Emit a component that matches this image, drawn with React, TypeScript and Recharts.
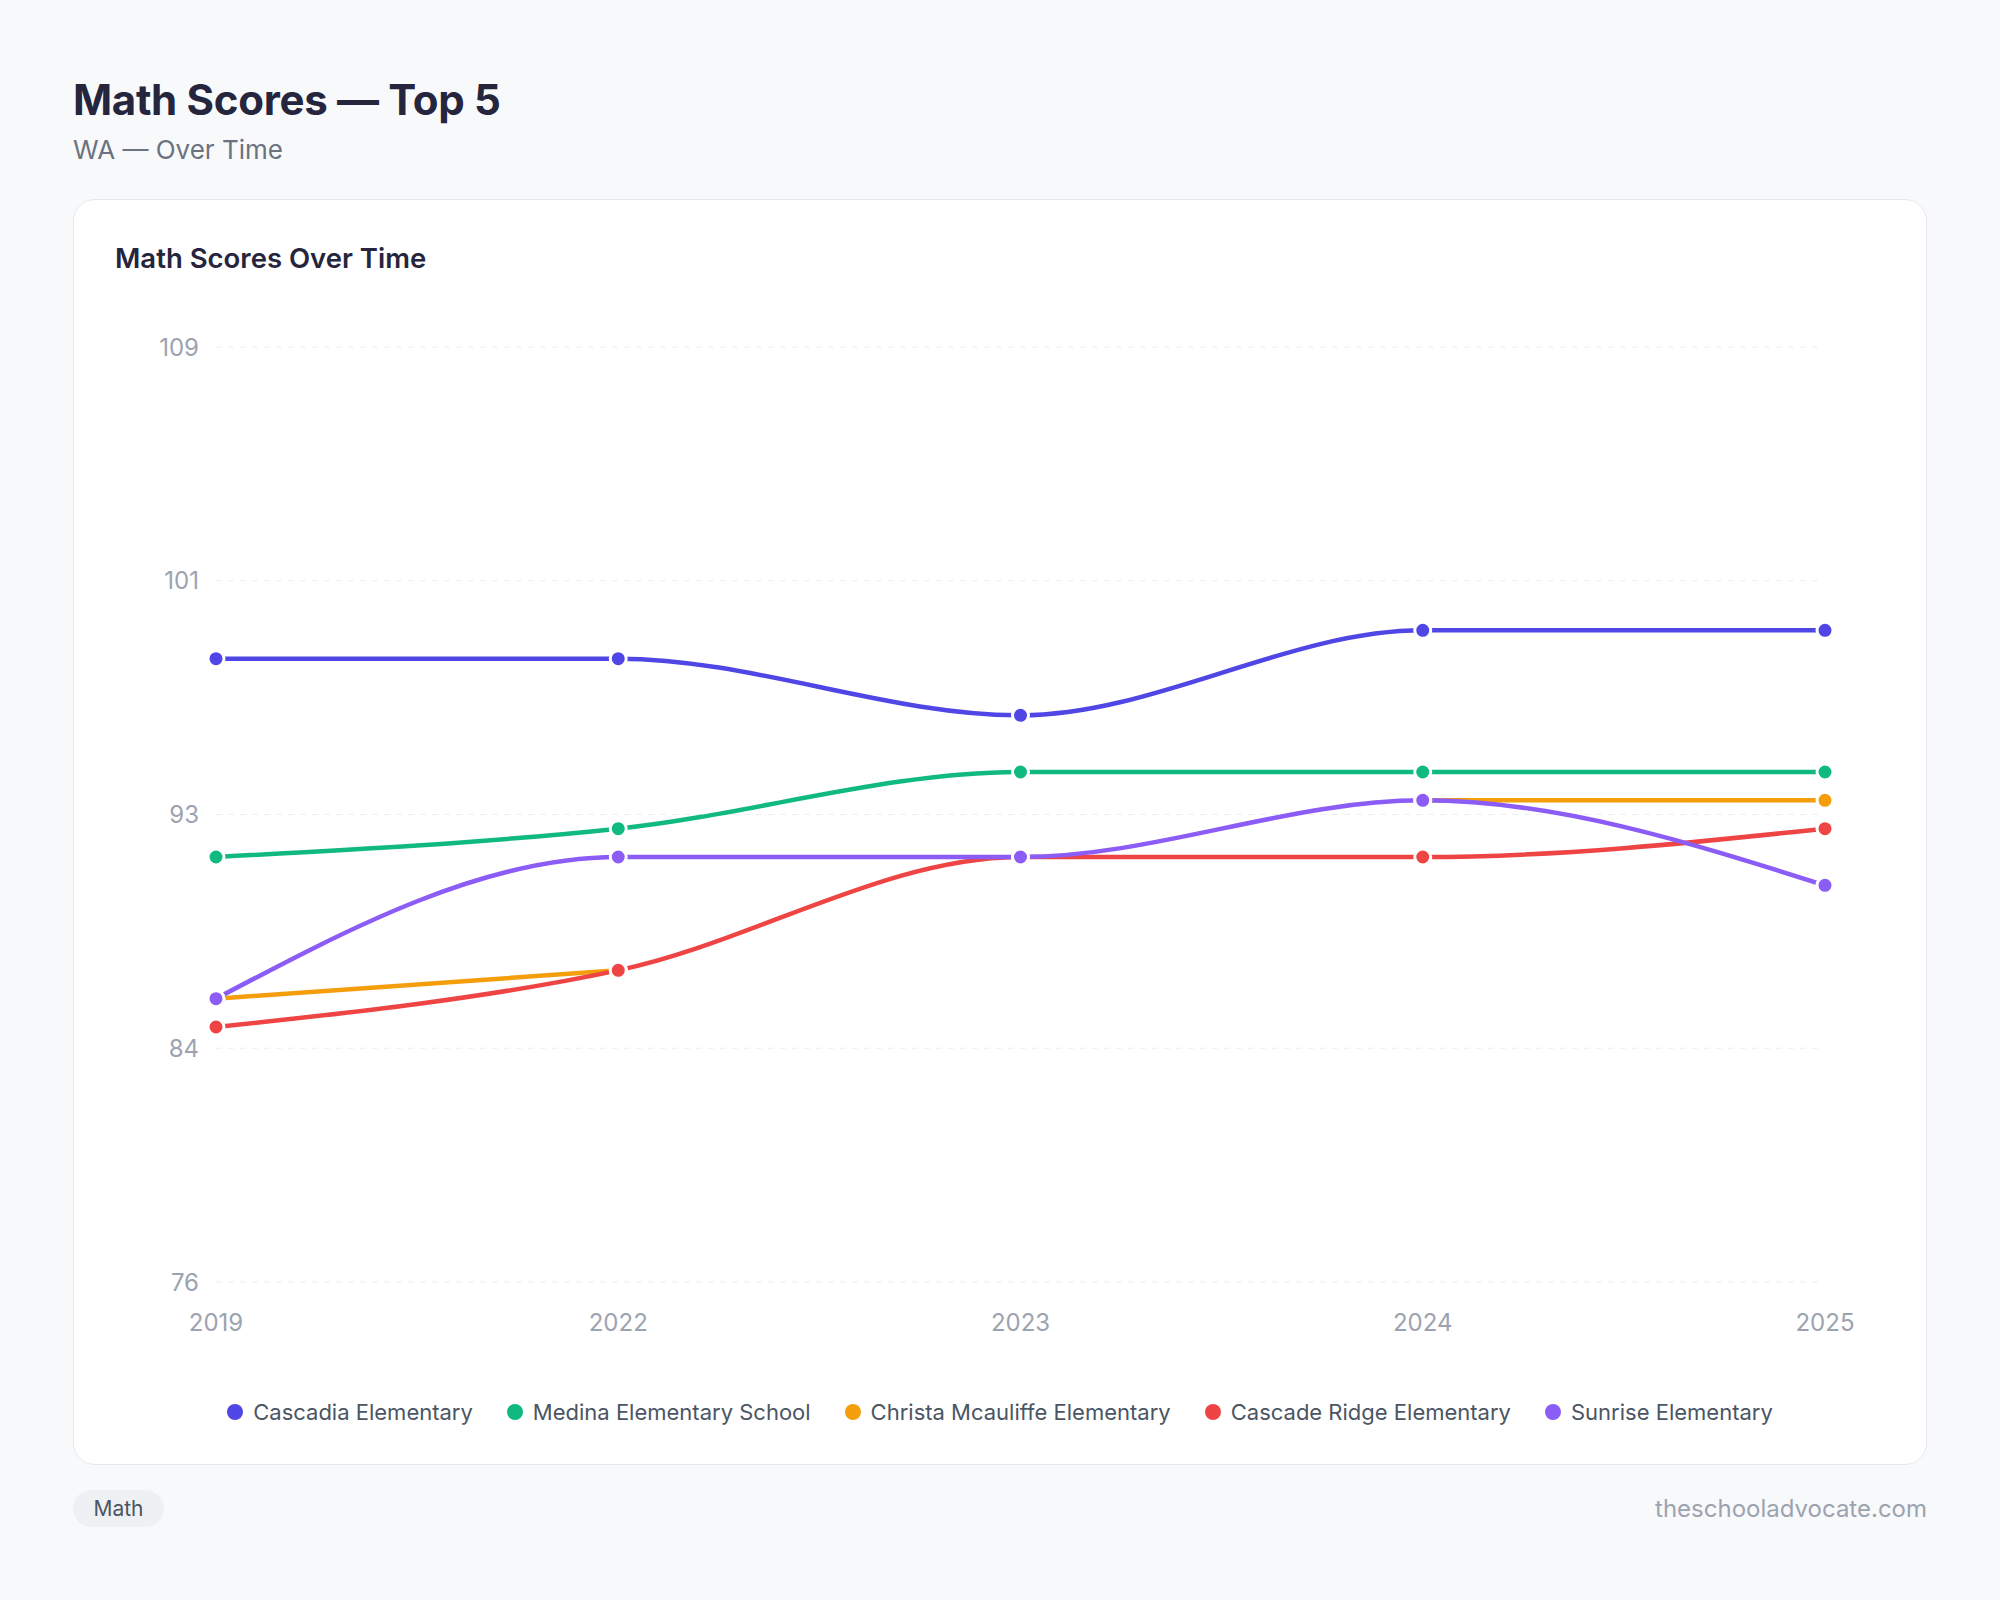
import { CartesianGrid, Legend, Line, LineChart, XAxis, YAxis } from "recharts";

const years = ["2019", "2022", "2023", "2024", "2025"];
const cascadia = [98, 98, 96, 99, 99];
const medina = [91, 92, 94, 94, 94];
const christa = [86, 87, null, 93, 93];
const cascadeRidge = [85, 87, 91, 91, 92];
const sunrise = [86, 91, 91, 93, 90];
const yTicks = [76, 84.25, 92.5, 100.75, 109];

const schools = [
  { key: "cascadia", name: "Cascadia Elementary", color: "#4f46e5", values: cascadia },
  { key: "medina", name: "Medina Elementary School", color: "#10b981", values: medina },
  { key: "christa", name: "Christa Mcauliffe Elementary", color: "#f59e0b", values: christa },
  { key: "cascadeRidge", name: "Cascade Ridge Elementary", color: "#ef4444", values: cascadeRidge },
  { key: "sunrise", name: "Sunrise Elementary", color: "#8b5cf6", values: sunrise },
];

const data = years.map((year, i) => {
  const row: Record<string, string | number | null> = { year };
  schools.forEach((s) => {
    row[s.key] = s.values[i];
  });
  return row;
});

const font = "Inter, 'Noto Sans', sans-serif";
const order = schools.map((s) => s.name);

function LegendRow(props: any) {
  const items = [...(props.payload || [])].sort(
    (a: any, b: any) => order.indexOf(a.value) - order.indexOf(b.value)
  );
  return (
    <div
      style={{
        display: "flex",
        justifyContent: "center",
        alignItems: "center",
        height: 40,
        paddingLeft: 75,
        gap: 34,
        fontFamily: font,
      }}
    >
      {items.map((item: any) => (
        <div key={item.value} style={{ display: "flex", alignItems: "center" }}>
          <span
            style={{
              display: "inline-block",
              width: 16,
              height: 16,
              borderRadius: 8,
              background: item.color,
              marginRight: 10,
            }}
          />
          <span style={{ fontSize: 22, color: "#4b5563" }}>{item.value}</span>
        </div>
      ))}
    </div>
  );
}

export default function App() {
  return (
    <div
      style={{
        position: "relative",
        width: 2000,
        height: 1600,
        background: "#f8f9fb",
        fontFamily: font,
        overflow: "hidden",
      }}
    >
      <style>{`body { margin: 0; }`}</style>

      <div
        style={{
          position: "absolute",
          left: 73,
          top: 79,
          fontSize: 42,
          lineHeight: "42px",
          fontWeight: 700,
          color: "#25253d",
          letterSpacing: -0.3,
        }}
      >
        Math Scores — Top 5
      </div>
      <div
        style={{
          position: "absolute",
          left: 73,
          top: 137,
          fontSize: 26,
          lineHeight: "26px",
          color: "#6b7280",
        }}
      >
        WA — Over Time
      </div>

      <div
        style={{
          position: "absolute",
          left: 73,
          top: 199,
          width: 1854,
          height: 1266,
          boxSizing: "border-box",
          background: "#ffffff",
          border: "1.5px solid #e5e7eb",
          borderRadius: 22,
        }}
      />
      <div
        style={{
          position: "absolute",
          left: 115,
          top: 244,
          fontSize: 27.5,
          lineHeight: "28px",
          fontWeight: 600,
          color: "#25253d",
        }}
      >
        Math Scores Over Time
      </div>

      <div style={{ position: "absolute", left: 100, top: 300 }}>
        <LineChart
          width={1780}
          height={1132}
          data={data}
          margin={{ top: 47, right: 55, left: 0, bottom: 0 }}
        >
          <CartesianGrid vertical={false} stroke="#eceef2" strokeDasharray="6 6" />
          <XAxis
            dataKey="year"
            axisLine={false}
            tickLine={false}
            height={110}
            tickMargin={26}
            tick={{ fontSize: 24, fill: "#9ca3af", fontFamily: font }}
            interval={0}
          />
          <YAxis
            domain={[76, 109]}
            ticks={yTicks}
            axisLine={false}
            tickLine={false}
            width={116}
            tickMargin={11}
            tickFormatter={(v: number) => String(Math.round(v))}
            tick={{ fontSize: 24, fill: "#9ca3af", fontFamily: font }}
          />
          <Legend verticalAlign="bottom" content={(p: any) => <LegendRow {...p} />} />
          {schools.map((s) => (
            <Line
              key={s.key}
              type="monotone"
              dataKey={s.key}
              name={s.name}
              stroke={s.color}
              strokeWidth={4.5}
              dot={{ r: 8, fill: s.color, stroke: "#ffffff", strokeWidth: 3 }}
              activeDot={false}
              isAnimationActive={false}
            />
          ))}
        </LineChart>
      </div>

      <div
        style={{
          position: "absolute",
          left: 73,
          top: 1490,
          width: 91,
          height: 37,
          borderRadius: 19,
          background: "#eff0f3",
          color: "#4b5563",
          fontSize: 21,
          lineHeight: "37px",
          textAlign: "center",
        }}
      >
        Math
      </div>
      <div
        style={{
          position: "absolute",
          right: 73,
          top: 1497,
          fontSize: 24,
          lineHeight: "24px",
          color: "#9ca3af",
        }}
      >
        theschooladvocate.com
      </div>
    </div>
  );
}
